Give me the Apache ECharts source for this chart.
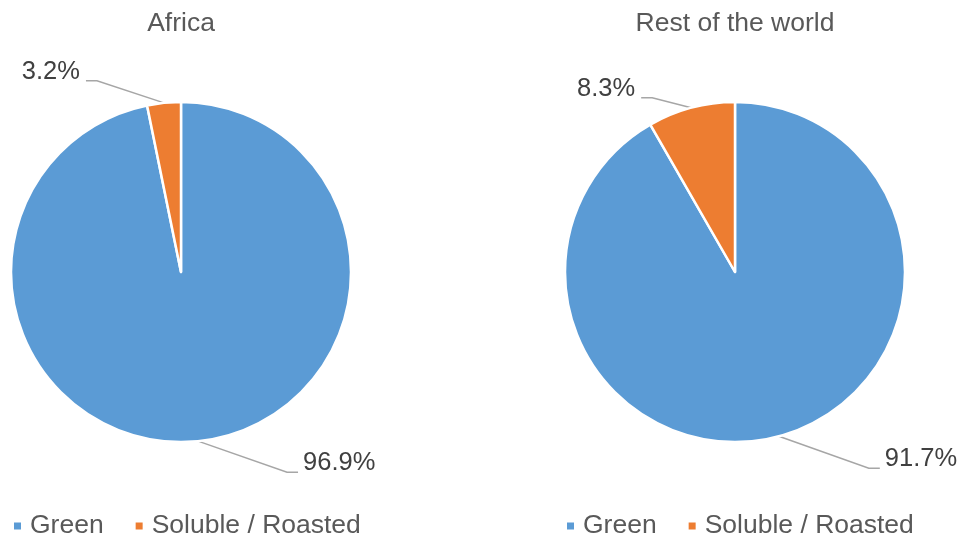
<!DOCTYPE html>
<html>
<head>
<meta charset="utf-8">
<script src="https://cdn.jsdelivr.net/npm/echarts@6/dist/echarts.min.js"></script>
<style>
html,body{margin:0;padding:0;background:#fff;}
#chart{width:961px;height:538px;}
</style>
</head>
<body>
<div id="chart"></div>
<script>
// ---- data ----
const categories = ['Green', 'Soluble / Roasted'];
const regions = ['Africa', 'Rest of the world'];
const africaValues = [96.9, 3.2];
const restValues = [91.7, 8.3];

// ---- style ----
const FONT = '"Liberation Sans", Arial, sans-serif';
const COLORS = ['#5B9BD5', '#ED7D31'];
const centersX = [181, 735];
// label placement relative to the slice anchor: [dx, dy] per series / data index
const labelOffsets = [
  [[105, 22], [-84, -31]],
  [[106, 23], [-56, -19]]
];

const chart = echarts.init(document.getElementById('chart'), null, {renderer: 'canvas'});

function makePie(idx, values) {
  return {
    type: 'pie',
    center: [centersX[idx], 272],
    radius: 170,
    startAngle: 90,
    clockwise: true,
    avoidLabelOverlap: false,
    animation: false,
    itemStyle: {borderColor: '#fff', borderWidth: 2.5},
    label: {
      show: true,
      position: 'outside',
      formatter: p => p.value.toFixed(1) + '%',
      fontFamily: FONT,
      fontSize: 25.5,
      color: '#404040'
    },
    labelLine: {show: true, length: 20, length2: 10, lineStyle: {color: '#A6A6A6', width: 1.5}},
    labelLayout: function (params) {
      const anchor = params.labelLinePoints[0];
      const off = labelOffsets[idx][params.dataIndex];
      const x = anchor[0] + off[0];
      const y = anchor[1] + off[1];
      const right = off[0] > 0;
      const ly = y + 9;
      const pts = right
        ? [anchor, [x - 16, ly], [x - 5, ly]]
        : [anchor, [x + 17, ly], [x + 6, ly]];
      return {x: x, y: y, align: right ? 'left' : 'right', verticalAlign: 'middle', labelLinePoints: pts};
    },
    emphasis: {disabled: true},
    data: categories.map((c, i) => ({name: c, value: values[i]}))
  };
}

const option = {
  backgroundColor: '#fff',
  color: COLORS,
  animation: false,
  title: regions.map((r, i) => ({
    text: r,
    left: centersX[i],
    top: 11,
    textAlign: 'center',
    padding: 0,
    textStyle: {fontFamily: FONT, fontSize: 26.5, fontWeight: 'normal', color: '#595959', lineHeight: 26}
  })),
  legend: [12, 565].map(l => ({
    data: categories,
    left: l,
    top: 511,
    padding: 0,
    icon: 'rect',
    itemWidth: 9,
    itemHeight: 9,
    itemGap: 30,
    selectedMode: false,
    textStyle: {fontFamily: FONT, fontSize: 26.5, color: '#595959', lineHeight: 30, padding: [0, 0, 0, 3]}
  })),
  series: [makePie(0, africaValues), makePie(1, restValues)]
};
chart.setOption(option);
</script>
</body>
</html>
